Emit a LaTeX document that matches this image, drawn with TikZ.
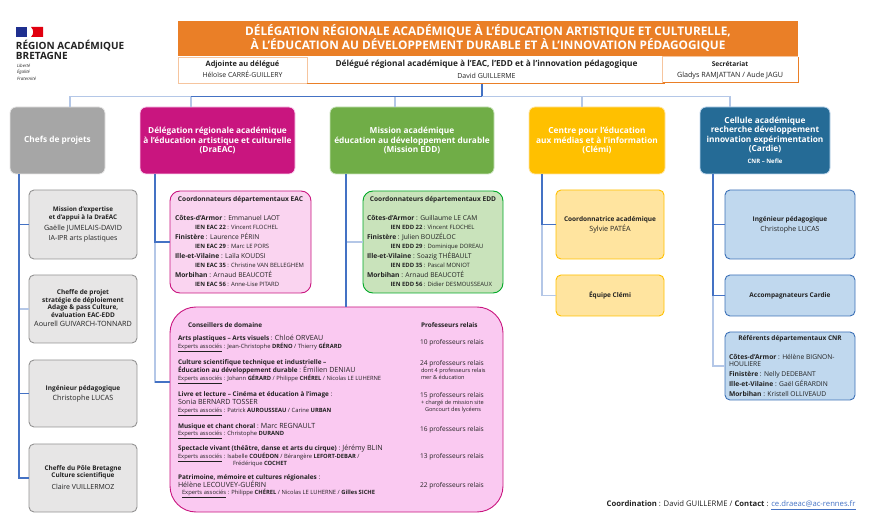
\documentclass[tikz,border=0pt]{standalone}
\usepackage{fontspec}
\setmainfont{Open Sans}
\definecolor{strong}{HTML}{4472C4}
\definecolor{pale}{HTML}{B4C7E7}
\definecolor{orangeT}{HTML}{EA7F27}
\definecolor{magentaT}{HTML}{C9157F}
\definecolor{greenT}{HTML}{70AD47}
\definecolor{yellowT}{HTML}{FFC000}
\definecolor{blueT}{HTML}{256B96}
\definecolor{greyT}{HTML}{A6A6A6}
\definecolor{greyL}{HTML}{E7E6E6}
\definecolor{pinkL}{HTML}{FAD4F0}
\definecolor{greenL}{HTML}{C9E3BB}
\definecolor{yellowL}{HTML}{FFE49F}
\definecolor{blueL}{HTML}{C0D8EE}
\definecolor{ink}{HTML}{222222}
\definecolor{flagB}{HTML}{1F2F8F}
\definecolor{flagR}{HTML}{E1000F}
\newcommand\fs[1]{\fontsize{#1}{#1}\selectfont}
\newcommand\bx[7]{\node[#6,minimum width={(#4-#2)*1pt},minimum height={(#5-#3)*1pt}] (#1) at ({(#2+#4)/2},{(#3+#5)/2}) {#7};}
\newcommand\tl[5]{\node[txt,anchor=base west] (#1) at (#2,{#3+0.36*#4}) {\fs{#4}#5};}
\newcommand\tc[5]{\node[txt,anchor=base] (#1) at (#2,{#3+0.36*#4}) {\fs{#4}#5};}
\newcommand\tm[5]{\node[txt,align=center,font=\bfseries\fontsize{#4}{7.5}\selectfont] (#1) at (#2,#3) {#5};}
\newcommand\exa{\underline{Experts associés}}
\newcommand\nm[1]{{\fs{7.1}#1}}
\tikzset{
 txt/.style={inner sep=0pt,outer sep=0pt,text=ink},
 card/.style={rounded corners=5pt,line width=.9pt,align=center,inner sep=0pt,outer sep=0pt,text=ink},
 head/.style={card,rounded corners=6pt,line width=.8pt,text=white,font=\bfseries\fontsize{8.3}{9.6}\selectfont},
 greyhead/.style={head,fill=greyT,draw=greyL},
 maghead/.style={head,fill=magentaT,draw=pinkL},
 greenhead/.style={head,fill=greenT,draw=greenL},
 yelhead/.style={head,fill=yellowT,draw=yellowL},
 bluehead/.style={head,fill=blueT,draw=blueL,font=\bfseries\fontsize{8.3}{9.3}\selectfont},
 greycard/.style={card,fill=greyL,draw=gray!85},
 yelcard/.style={card,fill=yellowL,draw=yellowT},
 bluecard/.style={card,fill=blueL,draw=strong!70!blueT},
 pinkcard/.style={card,rounded corners=10pt,fill=pinkL,draw=magentaT},
 greencard/.style={card,rounded corners=10pt,fill=greenL,draw=green!60!black!85!cyan},
 bigcard/.style={card,rounded corners=26pt,fill=pinkL!95!magenta,draw=magentaT},
 lk/.style={strong,line width=1.1pt},
 lkp/.style={pale,line width=1.1pt},
}
\begin{document}
\begin{tikzpicture}[x=1pt,y=-1pt]
\useasboundingbox (0,0) rectangle (871,529);
% logo
\fill[flagB] (16,27) rectangle (27,37);
\fill[flagR] (31,27) -- (43,27) -- (43,37) -- (31,37) .. controls (34,34) and (34,30) .. (31,27);
\tl{lg1}{16}{45.5}{10}{\textbf{RÉGION ACADÉMIQUE}}
\tl{lg2}{16}{56}{10}{\textbf{BRETAGNE}}
\tl{lg3}{17}{65.5}{4.4}{\itshape Liberté}
\tl{lg4}{17}{72}{4.4}{\itshape Égalité}
\tl{lg5}{17}{79}{4.4}{\itshape Fraternité}
% header
\bx{title}{178}{21}{798}{56}{fill=orangeT,inner sep=0pt,align=center,text=white,font=\bfseries\fontsize{11.8}{14}\selectfont}{DÉLÉGATION RÉGIONALE ACADÉMIQUE À L’ÉDUCATION ARTISTIQUE ET CULTURELLE,\\À L’ÉDUCATION AU DÉVELOPPEMENT DURABLE ET À L’INNOVATION PÉDAGOGIQUE}
\bx{adj}{178}{57}{307}{83.5}{draw=orangeT!45,line width=.9pt,inner sep=0pt}{}
\bx{dele}{307}{57}{665}{83.5}{inner sep=0pt}{}
\draw[orangeT,line width=.8pt] (dele.south west) -- (dele.south east);
\bx{secr}{663}{57}{798}{82.5}{fill=white,inner sep=0pt}{}
\draw[orangeT,line width=.8pt] (secr.north east) -- (secr.south east) -- (secr.south west);
\draw[orangeT!45,line width=.9pt] (secr.south west) -- (secr.north west) -- (secr.north east);
\tc{adj1}{242.5}{64}{7.4}{\textbf{Adjointe au délégué}}
\tc{adj2}{242.5}{75}{6.9}{Héloïse CARRÉ-GUILLERY}
\tc{del1}{486.5}{64}{8.3}{\textbf{Délégué régional académique à l’EAC, l’EDD et à l’innovation pédagogique}}
\tc{del2}{486.5}{76}{7}{David GUILLERME}
\tc{sec1}{730}{64}{6.6}{\textbf{Secrétariat}}
\tc{sec2}{730}{75}{7.2}{Gladys RAMJATTAN / Aude JAGU}
% heads
\bx{chefs}{10}{107}{105}{174}{greyhead}{Chefs de projets}
\bx{drac}{140}{107}{295}{174}{maghead}{Délégation régionale académique\\à l’éducation artistique et culturelle\\(DraEAC)}
\bx{medd}{330}{107}{494}{174}{greenhead}{Mission académique\\éducation au développement durable\\(Mission EDD)}
\bx{clemi}{529}{107}{665}{174}{yelhead}{Centre pour l’éducation\\aux médias et à l’information\\(Clémi)}
\bx{cardie}{700}{107}{830}{174}{bluehead}{Cellule académique\\recherche développement\\innovation expérimentation\\(Cardie)\\[3pt]{\fs{6}CNR – Nefle}}
% grey column
\bx{g1}{29}{190}{137}{259}{greycard}{}
\bx{g2}{29}{275}{137}{343}{greycard}{}
\bx{g3}{29}{360}{137}{427}{greycard}{}
\bx{g4}{29}{444}{137}{512}{greycard}{}
\tm{g1a}{83}{214}{6.3}{Mission d’expertise\\et d’appui à la DraEAC}
\tc{g1b}{83}{228}{7.2}{Gaëlle JUMELAIS-DAVID}
\tc{g1c}{83}{237.7}{7}{IA-IPR arts plastiques}
\tm{g2a}{83}{303.7}{6.5}{Cheffe de projet\\stratégie de déploiement\\Adage \& pass Culture,\\évaluation EAC-EDD}
\tc{g2b}{83}{324}{7.2}{Aourell GUIVARCH-TONNARD}
\tc{g3a}{83}{388}{6.5}{\textbf{Ingénieur pédagogique}}
\tc{g3b}{83}{398}{7.2}{Christophe LUCAS}
\tm{g4a}{83}{472.5}{6.4}{Cheffe du Pôle Bretagne\\Culture scientifique}
\tc{g4b}{83}{487}{7}{Claire VUILLERMOZ}
% EAC
\bx{eac}{170}{191}{311}{293}{pinkcard}{}
\tc{eac0}{240.5}{199.5}{6.6}{\textbf{Coordonnateurs départementaux EAC}}
\tl{eac1}{175}{218.3}{6.7}{\textbf{Côtes-d’Armor} : Emmanuel LAOT}
\tl{eac2}{195}{227.7}{5.9}{\textbf{IEN EAC 22} : Vincent FLOCHEL}
\tl{eac3}{175}{237.3}{6.7}{\textbf{Finistère} : Laurence PÉRIN}
\tl{eac4}{195}{246.7}{5.9}{\textbf{IEN EAC 29} : Marc LE PORS}
\tl{eac5}{175}{256}{6.7}{\textbf{Ille-et-Vilaine} : Laïla KOUDSI}
\tl{eac6}{195}{265.7}{5.9}{\textbf{IEN EAC 35} : Christine VAN BELLEGHEM}
\tl{eac7}{175}{275}{6.7}{\textbf{Morbihan} : Arnaud BEAUCOTÉ}
\tl{eac8}{195}{284.3}{5.9}{\textbf{IEN EAC 56} : Anne-Lise PITARD}
% EDD
\bx{edd}{363}{191}{503}{293}{greencard}{}
\tc{edd0}{433}{199.5}{6.6}{\textbf{Coordonnateurs départementaux EDD}}
\tl{edd1}{367}{218.3}{6.7}{\textbf{Côtes-d’Armor} : Guillaume LE CAM}
\tl{edd2}{390.5}{227.7}{5.9}{\textbf{IEN EDD 22} : Vincent FLOCHEL}
\tl{edd3}{367}{237.3}{6.7}{\textbf{Finistère} : Julien BOUZÉLOC}
\tl{edd4}{390.5}{246.7}{5.9}{\textbf{IEN EDD 29} : Dominique DOREAU}
\tl{edd5}{367}{256}{6.7}{\textbf{Ille-et-Vilaine} : Soazig THÉBAULT}
\tl{edd6}{390.5}{265.7}{5.9}{\textbf{IEN EDD 35} : Pascal MONIOT}
\tl{edd7}{367}{275}{6.7}{\textbf{Morbihan} : Arnaud BEAUCOTÉ}
\tl{edd8}{390.5}{284.3}{5.9}{\textbf{IEN EDD 56} : Didier DESMOUSSEAUX}
% big
\bx{big}{170}{307}{503}{512}{bigcard}{}
\tl{b0}{188}{325}{6.4}{\textbf{Conseillers de domaine}}
\tl{p0}{421}{325}{6.4}{\textbf{Professeurs relais}}
\tl{b1}{178}{338.3}{6.4}{\textbf{Arts plastiques – Arts visuels} : \nm{Chloé ORVEAU}}
\tl{b1e}{178}{346}{5.8}{\exa{} : Jean-Christophe \textbf{DRÉNO} / Thierry \textbf{GÉRARD}}
\tl{p1}{420}{342}{6.6}{10 professeurs relais}
\tl{b2}{178}{362.5}{6.4}{\textbf{Culture scientifique technique et industrielle –}}
\tl{b2b}{178}{370.3}{6.4}{\textbf{Éducation au développement durable} : \nm{Émilien DENIAU}}
\tl{b2e}{178}{378}{5.8}{\exa{} : Johann \textbf{GÉRARD} / Philippe \textbf{CHÉREL} / Nicolas LE LUHERNE}
\tl{p2}{420}{363}{6.6}{24 professeurs relais}
\tl{p2b}{421}{370.3}{5.6}{dont 4 professeurs relais}
\tl{p2c}{421}{377}{5.6}{mer \& éducation}
\tl{b3}{178}{394.5}{6.4}{\textbf{Livre et lecture – Cinéma et éducation à l’image} :}
\tl{b3b}{178}{402.3}{7.1}{Sonia BERNARD TOSSER}
\tl{b3e}{178}{410}{5.8}{\exa{} : Patrick \textbf{AUROUSSEAU} / Carine \textbf{URBAN}}
\tl{p3}{420}{395}{6.6}{15 professeurs relais}
\tl{p3b}{421}{402.3}{5.6}{+ chargé de mission site}
\tl{p3c}{425}{409.5}{5.6}{Goncourt des lycéens}
\tl{b4}{178}{425.7}{6.4}{\textbf{Musique et chant choral} : \nm{Marc REGNAULT}}
\tl{b4e}{178}{433}{5.8}{\exa{} : Christophe \textbf{DURAND}}
\tl{p4}{420}{429}{6.6}{16 professeurs relais}
\tl{b5}{178}{448.5}{6.4}{\textbf{Spectacle vivant (théâtre, danse et arts du cirque)} : \nm{Jérémy BLIN}}
\tl{b5e}{178}{456}{5.8}{\exa{} : Isabelle \textbf{COUÉDON} / Bérangère \textbf{LEFORT-DEBAR} /}
\tl{b5f}{233}{463}{5.8}{Frédérique \textbf{COCHET}}
\tl{p5}{420}{456}{6.6}{13 professeurs relais}
\tl{b6}{178}{477.3}{6.4}{\textbf{Patrimoine, mémoire et cultures régionales} :}
\tl{b6b}{178}{485}{7.1}{Hélène LECOUVEY-GUÉRIN}
\tl{b6e}{182}{492.7}{5.8}{\exa{} : Philippe \textbf{CHÉREL} / Nicolas LE LUHERNE / \textbf{Gilles SICHE}}
\tl{p6}{420}{485}{6.6}{22 professeurs relais}
% clemi cards
\bx{y1}{556}{190}{664}{259}{yelcard}{}
\tc{y1a}{610}{219.3}{6.5}{\textbf{Coordonnatrice académique}}
\tc{y1b}{610}{229.3}{7.2}{Sylvie PATÉA}
\bx{y2}{556}{275}{664}{316}{yelcard}{}
\tc{y2a}{610}{295.5}{6.5}{\textbf{Équipe Clémi}}
% cardie cards
\bx{c1}{725}{190}{855}{259}{bluecard}{}
\tc{c1a}{790}{219.3}{6.5}{\textbf{Ingénieur pédagogique}}
\tc{c1b}{790}{229.3}{7}{Christophe LUCAS}
\bx{c2}{725}{275}{855}{316}{bluecard}{}
\tc{c2a}{790}{295.5}{6.5}{\textbf{Accompagnateurs Cardie}}
\bx{c3}{725}{332}{855}{400}{bluecard}{}
\tc{c3a}{790}{338}{6.5}{\textbf{Référents départementaux CNR}}
\tl{c3b}{729}{356.7}{6.7}{\textbf{Côtes-d’Armor} : Hélène BIGNON-}
\tl{c3c}{729}{364}{6.7}{HOULIERE}
\tl{c3d}{729}{374}{6.7}{\textbf{Finistère} : Nelly DEDEBANT}
\tl{c3e}{729}{384}{6.7}{\textbf{Ille-et-Vilaine} : Gaël GÉRARDIN}
\tl{c3f}{729}{394}{6.7}{\textbf{Morbihan} : Kristell OLLIVEAUD}
% footer
\node[txt,anchor=base east] (foot) at (855.5,507) {\fs{7.7}\textbf{Coordination} : David GUILLERME / \textbf{Contact} : \textcolor{strong}{\underline{ce.draeac@ac-rennes.fr}}};
% connectors
\coordinate (bus) at (482,96.5);
\draw[lkp] (bus) -| (chefs.north -| 70,0);
\draw[lkp] (bus) -| (cardie.north -| 730,0);
\draw[lkp] (bus) -| (clemi.north -| 582,0);
\draw[lkp] (bus) -| (medd.north -| 395,0);
\draw[lkp] (bus) -| (drac.north -| 191,0);
\draw[lk] (191,96.5) -- (bus);
\draw[lk] (dele.south -| bus) -- (bus);
\coordinate (sa) at (chefs.south -| 19,0);
\draw[lk] (sa) |- (g4.west);
\draw[lkp] (sa) |- (g2.west);
\draw[lk] (sa) |- (g1.west);
\draw[lk] (sa) |- (g3.west);
\coordinate (sb) at (drac.south -| 155,0);
\draw[lkp] (sb) |- (big.west |- 0,382);
\draw[lk] (155,382) -- (big.west |- 0,382);
\draw[lk] (sb) |- (eac.west);
\coordinate (sc) at (medd.south -| 346,0);
\draw[lkp] (sc) |- (edd.west);
\draw[lk] (sc) -- (big.north -| sc);
\coordinate (sd) at (clemi.south -| 542,0);
\draw[lkp] (sd) |- (y2.west);
\draw[lk] (sd) |- (y1.west);
\coordinate (se) at (cardie.south -| 713,0);
\draw[lkp] (se) |- (c3.west);
\draw[lk] (se) |- (c2.west);
\draw[lk] (se) |- (c1.west);
\end{tikzpicture}
\end{document}
